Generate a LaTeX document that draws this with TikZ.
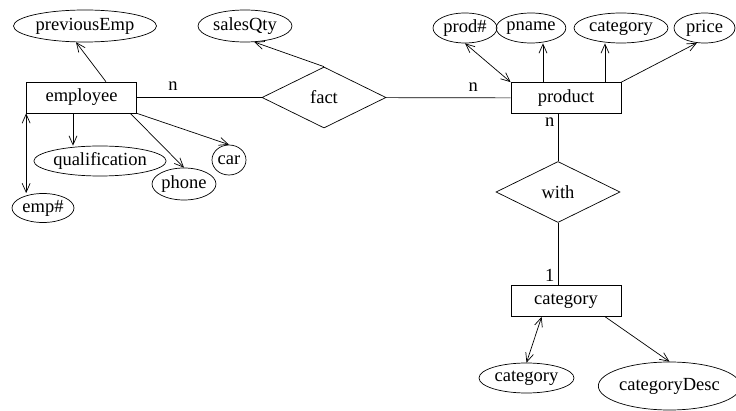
\documentclass[tikz,border=0pt]{standalone}
\usepackage{fontspec}
\setmainfont{Liberation Serif}
\usetikzlibrary{shapes.geometric, arrows.meta, calc}

\begin{document}
\begin{tikzpicture}[x=1pt, y=-1pt, line width=0.7pt, font=\fontsize{18.5}{20}\selectfont,
    entity/.style={draw, rectangle, minimum width=110pt, minimum height=31pt, inner sep=0pt},
    relation/.style={draw, diamond, minimum width=124pt, minimum height=61pt, inner sep=0pt},
    attr/.style={draw, ellipse, minimum height=30pt, inner sep=0pt},
    link/.style={-{Straight Barb[length=9pt, width=8pt]}},
    keylink/.style={{Straight Barb[length=9pt, width=8pt]}-{Straight Barb[length=9pt, width=8pt]}}]
                        \useasboundingbox (0,0) rectangle (736,411);
                        \node[entity] (employee) at (81.5,97.5) {employee};
                        \node[entity] (product) at (566,98) {product};
                        \node[entity] (category) at (566,301) {category};
                        \node[relation] (fact) at (324,97.5) {fact};
                        \node[relation] (with) at (558,192) {with};
                        \node[attr, minimum width=143pt, minimum height=32pt] (previousEmp) at (85,26) {previousEmp};
                        \node[attr, minimum width=94pt, minimum height=32pt] (salesQty) at (245,26) {salesQty};
                        \node[attr, minimum width=125pt] (qualification) at (100,161) {qualification};
                        \node[attr, minimum width=63pt, minimum height=32pt] (phone) at (184,184) {phone};
                        \node[attr, minimum width=34pt] (car) at (229,160) {car};
                        \node[attr, minimum width=62pt, minimum height=29pt] (empNo) at (43,208) {emp\#};
                        \node[attr, minimum width=64pt] (prodNo) at (465,28) {prod\#};
                        \node[attr, minimum width=57pt] (pname) at (531,28) {pname};
                        \node[attr, minimum width=94pt] (prodCategory) at (621,28) {category};
                        \node[attr, minimum width=61pt] (price) at (704.5,28) {price};
                        \node[attr, minimum width=95pt] (catAttr) at (526.5,378) {category};
                        \node[attr, minimum width=131pt, minimum height=48pt] (categoryDesc) at (669.5,386) {categoryDesc};
                        \draw (employee) -- node[pos=0.29, above=3pt] {n} (fact);
                        \draw (fact) -- node[pos=0.7, above=3pt] {n} (product);
                        \draw (with) -- (with |- product.south) node[below left] {n};
                        \draw (with) -- (with |- category.north) node[above left] {1};
                        \draw[link] (employee.33) -- (previousEmp.-119);
                        \draw[link] (fact.north) -- (salesQty.-60);
                        \draw[link] ([xshift=-8.5pt]employee.south) -- ([xshift=-8.5pt]employee.south |- qualification.north);
                        \draw[link] (employee.-18) -- (phone.north);
                        \draw[link] (employee.south east) -- (car.north);
                        \draw[keylink] (employee.south west) -- (employee.south west |- empNo.north);
                        \draw[keylink] (product.north west) -- (prodNo.south);
                        \draw[link] ([xshift=-23pt]product.north) -- ([xshift=-23pt]product.north |- pname.south);
                        \draw[link] ([xshift=39pt]product.north) -- ([xshift=39pt]product.north |- prodCategory.south);
                        \draw[link] (product.north east) -- (price.-117);
                        \draw[keylink] (category.-147) -- (catAttr.north);
                        \draw[link] (category.-22) -- (categoryDesc.north);
                    \end{tikzpicture}
\end{document}
